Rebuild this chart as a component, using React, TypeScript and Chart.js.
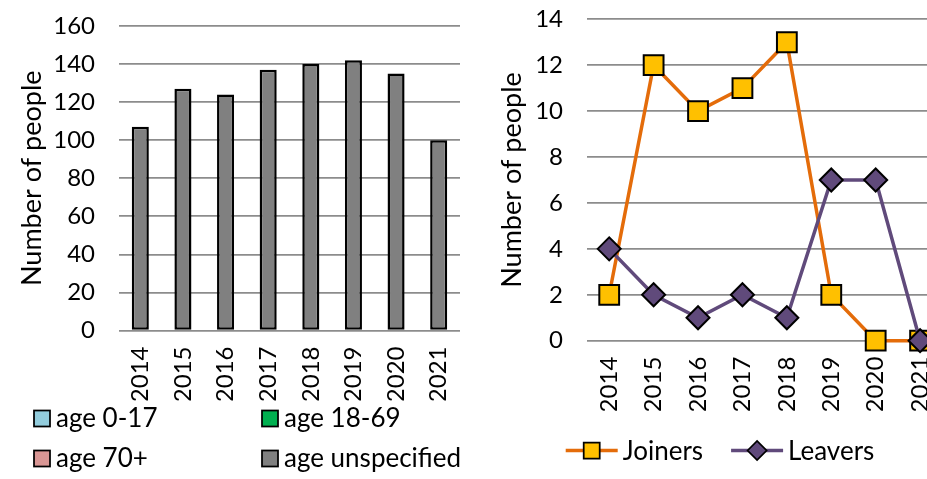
import React, { useEffect, useRef } from 'react';
import { Chart, registerables } from 'chart.js';

Chart.register(...registerables);

const years = ['2014', '2015', '2016', '2017', '2018', '2019', '2020', '2021'];
const age0to17 = [0, 0, 0, 0, 0, 0, 0, 0];
const age18to69 = [0, 0, 0, 0, 0, 0, 0, 0];
const age70plus = [0, 0, 0, 0, 0, 0, 0, 0];
const ageUnspecified = [107, 127, 124, 137, 140, 142, 135, 100];
const joiners = [2, 12, 10, 11, 13, 2, 0, 0];
const leavers = [4, 2, 1, 2, 1, 7, 7, 0];
const leftAxisMax = 160;
const leftAxisStep = 20;
const rightAxisMax = 14;
const rightAxisStep = 2;
const axisTitle = 'Number of people';

const FONT = 'Lato';
const TICK_SIZE = 24;
const TITLE_SIZE = 27;
const LEGEND_SIZE = 26;
const GRID = '#8c8c8c';

const gridLegend = {
  id: 'gridLegend',
  afterDraw(chart: any) {
    const ctx = chart.ctx as CanvasRenderingContext2D;
    const cols = [34, 262];
    const rows = [418.5, 458.5];
    ctx.save();
    ctx.font = `${LEGEND_SIZE}px ${FONT}`;
    ctx.textBaseline = 'alphabetic';
    ctx.textAlign = 'left';
    chart.data.datasets.forEach((d: any, i: number) => {
      const x = cols[i % 2];
      const y = rows[Math.floor(i / 2)];
      ctx.fillStyle = d.backgroundColor;
      ctx.fillRect(x, y - 8, 16, 16);
      ctx.strokeStyle = '#000';
      ctx.lineWidth = 1.75;
      ctx.strokeRect(x, y - 8, 16, 16);
      ctx.fillStyle = '#000';
      ctx.fillText(d.label, x + 22, y + 8.5);
    });
    ctx.restore();
  },
};

const lineLegend = {
  id: 'lineLegend',
  afterDraw(chart: any) {
    const ctx = chart.ctx as CanvasRenderingContext2D;
    ctx.save();
    ctx.font = `${LEGEND_SIZE}px ${FONT}`;
    ctx.textBaseline = 'alphabetic';
    ctx.textAlign = 'left';
    const ds = chart.data.datasets;
    const lineLen = 52;
    const textGap = 5;
    const itemGap = 28;
    const widths = ds.map((d: any) => lineLen + textGap + ctx.measureText(d.label).width);
    const total = widths.reduce((a: number, b: number) => a + b, 0) + itemGap * (ds.length - 1);
    let x = chart.width / 2 - total / 2;
    const y = 450.5;
    ds.forEach((d: any, i: number) => {
      ctx.strokeStyle = d.borderColor;
      ctx.lineWidth = 3.5;
      ctx.beginPath();
      ctx.moveTo(x, y);
      ctx.lineTo(x + lineLen, y);
      ctx.stroke();
      const cx = x + lineLen / 2;
      ctx.fillStyle = d.pointBackgroundColor;
      ctx.strokeStyle = '#000';
      ctx.lineWidth = 1.75;
      ctx.beginPath();
      if (d.pointStyle === 'rect') {
        ctx.rect(cx - 8, y - 8, 16, 16);
      } else {
        const r = 9.5;
        ctx.moveTo(cx - r, y);
        ctx.lineTo(cx, y - r);
        ctx.lineTo(cx + r, y);
        ctx.lineTo(cx, y + r);
        ctx.closePath();
      }
      ctx.fill();
      ctx.stroke();
      ctx.fillStyle = '#000';
      ctx.fillText(d.label, x + lineLen + textGap, y + 9);
      x += widths[i] + itemGap;
    });
    ctx.restore();
  },
};

function yAxis(max: number, step: number, width: number) {
  return {
    min: 0,
    max,
    beginAtZero: true,
    afterFit(scale: any) {
      scale.width = width;
      scale.paddingTop = 0;
      scale.paddingBottom = 0;
    },
    ticks: {
      stepSize: step,
      padding: 24,
      color: '#000',
      font: { family: FONT, size: TICK_SIZE },
    },
    grid: { color: GRID, lineWidth: 1.75, drawTicks: false },
    border: { display: false },
    title: {
      display: true,
      text: axisTitle,
      color: '#000',
      font: { family: FONT, size: TITLE_SIZE },
      padding: { top: 16, bottom: 0 },
    },
  };
}

function xAxis(offset: boolean) {
  return {
    offset,
    afterFit(scale: any) {
      scale.height = 70;
      scale.paddingLeft = 0;
      scale.paddingRight = 0;
    },
    ticks: {
      autoSkip: false,
      maxRotation: 90,
      minRotation: 90,
      padding: 16,
      color: '#000',
      font: { family: FONT, size: TICK_SIZE },
    },
    grid: { display: false, drawTicks: false },
    border: { display: false },
  };
}

export default function App() {
  const leftRef = useRef<HTMLCanvasElement>(null);
  const rightRef = useRef<HTMLCanvasElement>(null);

  useEffect(() => {
    const barDs = (label: string, data: number[], color: string, bw: number) => ({
      label,
      data,
      backgroundColor: color,
      borderColor: '#000',
      borderWidth: bw,
      borderSkipped: false,
      barPercentage: 0.4,
      categoryPercentage: 1,
    });
    const left = new Chart(leftRef.current!, {
      type: 'bar',
      data: {
        labels: years,
        datasets: [
          barDs('age 0-17', age0to17, '#93CDDD', 0),
          barDs('age 18-69', age18to69, '#00B050', 0),
          barDs('age 70+', age70plus, '#D99694', 0),
          barDs('age unspecified', ageUnspecified, '#808080', 2.5),
        ],
      },
      options: {
        animation: false,
        responsive: true,
        maintainAspectRatio: false,
        layout: { padding: { top: 26, right: 16, bottom: 78.5, left: 0 } },
        plugins: { legend: { display: false }, tooltip: { enabled: false } },
        scales: {
          x: { ...xAxis(true), stacked: true } as any,
          y: { ...yAxis(leftAxisMax, leftAxisStep, 119), stacked: true } as any,
        },
      },
      plugins: [gridLegend],
    });

    const right = new Chart(rightRef.current!, {
      type: 'line',
      data: {
        labels: years,
        datasets: [
          {
            label: 'Joiners',
            data: joiners,
            order: 1,
            clip: false,
            borderColor: '#E46C0A',
            borderWidth: 3.5,
            tension: 0,
            pointStyle: 'rect',
            pointRadius: 14,
            pointBackgroundColor: '#FFC000',
            pointBorderColor: '#000',
            pointBorderWidth: 2,
          },
          {
            label: 'Leavers',
            data: leavers,
            order: 0,
            clip: false,
            borderColor: '#604A7B',
            borderWidth: 3.5,
            tension: 0,
            pointStyle: 'rectRot',
            pointRadius: 11.5,
            pointBackgroundColor: '#604A7B',
            pointBorderColor: '#000',
            pointBorderWidth: 2,
          },
        ],
      },
      options: {
        animation: false,
        responsive: true,
        maintainAspectRatio: false,
        layout: { padding: { top: 19.3, right: 17.7, bottom: 68.3, left: 0 } },
        plugins: { legend: { display: false }, tooltip: { enabled: false } },
        scales: {
          x: xAxis(true) as any,
          y: yAxis(rightAxisMax, rightAxisStep, 107) as any,
        },
      },
      plugins: [lineLegend],
    });

    return () => {
      left.destroy();
      right.destroy();
    };
  }, []);

  return (
    <div
      style={{
        position: 'fixed',
        left: 0,
        top: 0,
        width: 927,
        height: 479,
        overflow: 'hidden',
        background: '#fff',
      }}
    >
      <div style={{ position: 'absolute', left: 0, top: 0, width: 476, height: 479 }}>
        <canvas ref={leftRef} />
      </div>
      <div style={{ position: 'absolute', left: 480, top: 0, width: 480, height: 479 }}>
        <canvas ref={rightRef} />
      </div>
    </div>
  );
}
